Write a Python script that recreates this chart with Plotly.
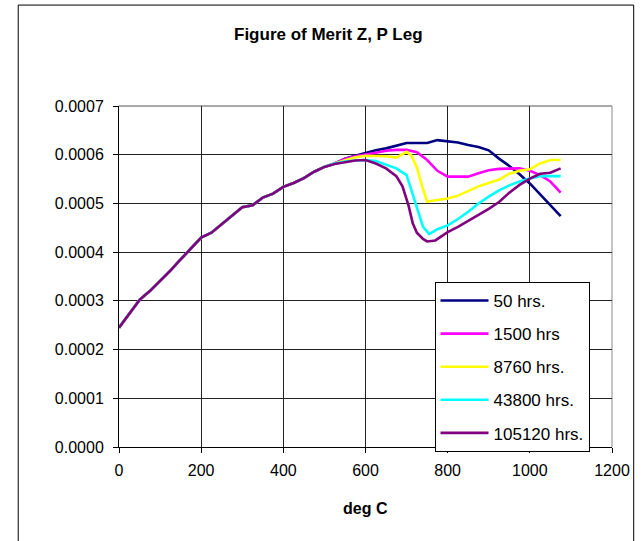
import plotly.graph_objects as go

# Shared low-temperature portion (all series overlap)
base_x = [0, 25, 50, 75, 100, 125, 150, 175, 200, 225, 250, 275, 300, 325, 350, 375, 400, 425, 450, 475, 500]
base_y = [0.000245, 0.000274, 0.000302, 0.00032, 0.00034, 0.000362, 0.000385, 0.000408, 0.00043, 0.00044,
          0.000457, 0.000475, 0.000492, 0.000496, 0.000512, 0.00052, 0.000534, 0.000542, 0.000552, 0.000565, 0.000575]

x_50 = [525, 550, 575, 600, 625, 650, 675, 700, 725, 750, 775, 800, 825, 850, 875, 900, 925, 950, 975, 1000, 1025, 1050, 1075]
y_50 = [0.000582, 0.000592, 0.000598, 0.000604, 0.000609, 0.000613, 0.000618, 0.000624, 0.000624, 0.000624, 0.00063,
        0.000627, 0.000625, 0.00062, 0.000616, 0.000609, 0.000592, 0.000577, 0.00056, 0.000541, 0.000518, 0.000497, 0.000474]

x_1500 = [525, 550, 575, 600, 625, 650, 675, 700, 725, 750, 775, 800, 825, 850, 875, 900, 925, 950, 975, 1000, 1025, 1050, 1075]
y_1500 = [0.000582, 0.000591, 0.000597, 0.0006, 0.000604, 0.000608, 0.00061, 0.00061, 0.000605, 0.000589, 0.000567,
          0.000555, 0.000555, 0.000555, 0.000562, 0.000568, 0.000571, 0.000572, 0.000572, 0.000567, 0.000558, 0.000545, 0.000522]

x_8760 = [525, 550, 575, 600, 625, 650, 675, 700, 712, 725, 738, 750, 775, 800, 825, 850, 875, 900, 925, 950, 975, 1000, 1025, 1050, 1075]
y_8760 = [0.000582, 0.000589, 0.000595, 0.000598, 0.000598, 0.000597, 0.000594, 0.000606, 0.000598, 0.000574, 0.000535,
          0.000504, 0.000507, 0.00051, 0.000516, 0.000525, 0.000535, 0.000542, 0.000549, 0.000561, 0.000567, 0.00057,
          0.000582, 0.000589, 0.000589]

x_43800 = [525, 550, 575, 600, 625, 650, 675, 700, 712, 725, 740, 755, 775, 800, 825, 850, 875, 900, 925, 950, 975, 1000, 1025, 1050, 1075]
y_43800 = [0.000582, 0.000586, 0.000588, 0.000589, 0.000587, 0.00058, 0.000572, 0.000558, 0.000525, 0.000489, 0.000452,
           0.000437, 0.000447, 0.000455, 0.000468, 0.000483, 0.0005, 0.000514, 0.000527, 0.000537, 0.000545, 0.000551,
           0.000556, 0.000556, 0.000556]

x_105120 = [525, 550, 575, 600, 625, 650, 675, 690, 705, 715, 725, 740, 750, 770, 800, 825, 850, 875, 900, 925, 950, 975, 1000, 1025, 1050, 1075]
y_105120 = [0.000581, 0.000585, 0.000588, 0.000589, 0.000582, 0.000572, 0.000556, 0.000535, 0.000495, 0.000459, 0.00044,
            0.000427, 0.000422, 0.000424, 0.000441, 0.000452, 0.000464, 0.000476, 0.000489, 0.000503, 0.000522, 0.000538,
            0.000551, 0.000561, 0.000563, 0.000572]

series_names = ["50 hrs.", "1500 hrs", "8760 hrs.", "43800 hrs.", "105120 hrs."]
series_x = [x_50, x_1500, x_8760, x_43800, x_105120]
series_y = [y_50, y_1500, y_8760, y_43800, y_105120]
colors = ["#000080", "#FF00FF", "#FFFF00", "#00FFFF", "#800080"]

x_ticks = [0, 200, 400, 600, 800, 1000, 1200]
y_ticks = [0, 0.0001, 0.0002, 0.0003, 0.0004, 0.0005, 0.0006, 0.0007]

FONT = "Liberation Sans, Arial, sans-serif"

fig = go.Figure()
for i, (name, xs, ys, c) in enumerate(zip(series_names, series_x, series_y, colors)):
    fig.add_trace(go.Scatter(
        x=base_x + xs, y=base_y + ys, mode="lines", name=name,
        line=dict(color=c, width=2.6), legendgroup=f"g{i}",
    ))

fig.update_layout(
    width=642, height=541,
    margin=dict(l=119, r=24, t=106, b=94),
    paper_bgcolor="white", plot_bgcolor="white",
    font=dict(family=FONT, size=16, color="black"),
    showlegend=True,
    legend=dict(
        x=0.64, y=0.484, xanchor="left", yanchor="top",
        bgcolor="white", bordercolor="black", borderwidth=1,
        font=dict(family=FONT, size=17, color="black"),
        traceorder="grouped", tracegroupgap=8,
        itemwidth=48,
    ),
    xaxis=dict(
        range=[0, 1200], tickvals=x_ticks, ticktext=[str(v) for v in x_ticks],
        showgrid=True, gridcolor="#222222", gridwidth=1,
        showline=True, linecolor="black", linewidth=1,
        ticks="outside", ticklen=5, tickcolor="black",
        zeroline=False, tickfont=dict(size=16), ticklabelstandoff=4,
    ),
    yaxis=dict(
        range=[0, 0.0007], tickvals=y_ticks, ticktext=[f"{v:.4f}" for v in y_ticks],
        showgrid=True, gridcolor="#222222", gridwidth=1,
        showline=True, linecolor="black", linewidth=1,
        ticks="outside", ticklen=5, tickcolor="black",
        zeroline=False, tickfont=dict(size=16), ticklabelstandoff=6,
    ),
    shapes=[
        dict(type="rect", xref="paper", yref="paper",
             x0=-0.2044, x1=1.044, y0=-0.30, y1=1.296,
             line=dict(color="black", width=1), fillcolor="rgba(0,0,0,0)", layer="below"),
        dict(type="line", xref="paper", yref="paper", x0=0, x1=1, y0=1, y1=1,
             line=dict(color="#555555", width=1), layer="below"),
        dict(type="line", xref="paper", yref="paper", x0=1, x1=1, y0=0, y1=1,
             line=dict(color="#888888", width=1), layer="below"),
    ],
    annotations=[
        dict(text="<b>Figure of Merit Z, P Leg</b>", xref="paper", yref="paper",
             x=0.425, y=1.211, xanchor="center", yanchor="middle", showarrow=False,
             font=dict(family=FONT, size=17, color="black")),
        dict(text="<b>deg C</b>", xref="paper", yref="paper",
             x=0.5, y=-0.179, xanchor="center", yanchor="middle", showarrow=False,
             font=dict(family=FONT, size=16, color="black")),
    ],
)

fig.write_html("out.html")
